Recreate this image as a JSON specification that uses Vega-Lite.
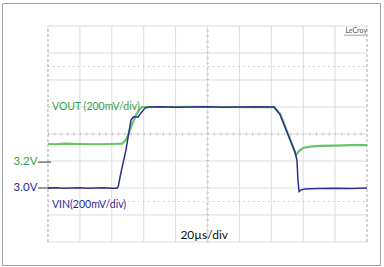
{
  "$schema": "https://vega.github.io/schema/vega-lite/v6.json",
  "width": 378,
  "height": 262,
  "padding": {"left": 2, "top": 3, "right": 4, "bottom": 2},
  "background": "white",
  "config": {"view": {"stroke": "#a0a0a0", "strokeWidth": 1}},
  "datasets": {
    "hgrid": [{"v": 0}, {"v": 1}, {"v": 2}, {"v": 3}, {"v": 4}, {"v": 5}, {"v": 6}, {"v": 7}, {"v": 8}],
    "vgrid": [{"t": 20}, {"t": 40}, {"t": 60}, {"t": 80}, {"t": 100}, {"t": 120}, {"t": 140}, {"t": 160}, {"t": 180}],
    "dotted": [{"v": 1.5}, {"v": 6.5}],
    "center": [{"t": 100, "v": 4}],
    "border": [{"t": 0}, {"t": 200}],
    "vout": [
      {"t": 0, "v": 3.63}, {"t": 5, "v": 3.62}, {"t": 10, "v": 3.64}, {"t": 20, "v": 3.63}, {"t": 30, "v": 3.62},
      {"t": 40, "v": 3.63}, {"t": 46.4, "v": 3.64}, {"t": 47.6, "v": 3.7}, {"t": 49.5, "v": 3.85}, {"t": 51.4, "v": 4.15},
      {"t": 53.3, "v": 4.44}, {"t": 55.2, "v": 4.7}, {"t": 57.1, "v": 4.89}, {"t": 58.9, "v": 5.0}, {"t": 70, "v": 5.0},
      {"t": 90, "v": 5.01}, {"t": 110, "v": 5.0}, {"t": 130, "v": 4.99}, {"t": 141.7, "v": 5.0}, {"t": 145.5, "v": 4.75},
      {"t": 150.5, "v": 4.0}, {"t": 154.3, "v": 3.4}, {"t": 155.5, "v": 3.22}, {"t": 157.4, "v": 3.37}, {"t": 159.9, "v": 3.48},
      {"t": 164.3, "v": 3.53}, {"t": 170.5, "v": 3.56}, {"t": 180, "v": 3.57}, {"t": 190, "v": 3.59}, {"t": 200, "v": 3.59}
    ],
    "vin": [
      {"t": 0, "v": 2.0}, {"t": 5, "v": 2.01}, {"t": 10, "v": 1.99}, {"t": 15, "v": 2.0}, {"t": 20, "v": 2.01},
      {"t": 25, "v": 1.99}, {"t": 30, "v": 2.0}, {"t": 35, "v": 2.01}, {"t": 40, "v": 1.99}, {"t": 43.3, "v": 1.99},
      {"t": 44.0, "v": 2.05}, {"t": 45.8, "v": 2.59}, {"t": 48.9, "v": 3.41}, {"t": 52.0, "v": 4.52}, {"t": 53.6, "v": 4.64},
      {"t": 56.4, "v": 4.62}, {"t": 58.3, "v": 4.78}, {"t": 60.8, "v": 4.96}, {"t": 63.3, "v": 5.0}, {"t": 70, "v": 5.01},
      {"t": 80, "v": 4.99}, {"t": 90, "v": 5.0}, {"t": 100, "v": 5.01}, {"t": 110, "v": 4.99}, {"t": 120, "v": 5.0},
      {"t": 130, "v": 5.01}, {"t": 141.7, "v": 5.0}, {"t": 145.5, "v": 4.72}, {"t": 150.5, "v": 3.97}, {"t": 154.9, "v": 3.33},
      {"t": 156.1, "v": 3.02}, {"t": 156.7, "v": 2.3}, {"t": 157.4, "v": 1.87}, {"t": 158.6, "v": 1.93}, {"t": 161.1, "v": 1.96},
      {"t": 165, "v": 1.97}, {"t": 170, "v": 1.98}, {"t": 180, "v": 1.99}, {"t": 190, "v": 1.98}, {"t": 200, "v": 2.0}
    ],
    "markers": [{"label": "3.2V", "v": 2.96, "ch": "VOUT"}, {"label": "3.0V", "v": 2.0, "ch": "VIN"}],
    "traceLabels": [{"label": "VOUT (200mV/div)", "t": 2.5, "v": 5.0, "ch": "VOUT"}, {"label": "VIN(200mV/div)", "t": 2.5, "v": 1.37, "ch": "VIN"}],
    "timebase": [{"label": "20µs/div", "t": 83, "v": 0.26}],
    "brand": [{"label": "LeCroy", "t": 200, "v": 7.81, "t0": 185.6, "vu": 7.66}]
  },
  "layer": [
    {
      "data": {"name": "hgrid"},
      "mark": {"type": "rule", "stroke": "#dcdcdc", "strokeWidth": 1},
      "encoding": {
        "y": {"field": "v", "type": "quantitative", "axis": null, "scale": {"domain": [-0.852, 8.852], "nice": false, "zero": false}},
        "x": {"datum": 0, "type": "quantitative", "axis": null, "scale": {"domain": [-28.84, 208.15], "nice": false, "zero": false}},
        "x2": {"datum": 200}
      }
    },
    {
      "data": {"name": "vgrid"},
      "mark": {"type": "rule", "stroke": "#dcdcdc", "strokeWidth": 1},
      "encoding": {
        "x": {"field": "t", "type": "quantitative", "axis": null},
        "y": {"datum": 0, "type": "quantitative", "axis": null},
        "y2": {"datum": 8}
      }
    },
    {
      "data": {"name": "dotted"},
      "mark": {"type": "rule", "stroke": "#c8c8c8", "strokeWidth": 1, "strokeDash": [1.5, 3.5]},
      "encoding": {
        "y": {"field": "v", "type": "quantitative", "axis": null},
        "x": {"datum": 0, "type": "quantitative", "axis": null},
        "x2": {"datum": 200}
      }
    },
    {
      "data": {"name": "center"},
      "mark": {"type": "rule", "stroke": "#c4c4c4", "strokeWidth": 3, "strokeDash": [1, 4.4]},
      "encoding": {
        "x": {"field": "t", "type": "quantitative", "axis": null},
        "y": {"datum": 0, "type": "quantitative", "axis": null},
        "y2": {"datum": 8}
      }
    },
    {
      "data": {"name": "center"},
      "mark": {"type": "rule", "stroke": "#c4c4c4", "strokeWidth": 3, "strokeDash": [1, 5.38]},
      "encoding": {
        "y": {"field": "v", "type": "quantitative", "axis": null},
        "x": {"datum": 0, "type": "quantitative", "axis": null},
        "x2": {"datum": 200}
      }
    },
    {
      "data": {"name": "border"},
      "mark": {"type": "rule", "stroke": "#a8a8a8", "strokeWidth": 1, "strokeDash": [3, 2]},
      "encoding": {
        "x": {"field": "t", "type": "quantitative", "axis": null},
        "y": {"datum": 0, "type": "quantitative", "axis": null},
        "y2": {"datum": 8}
      }
    },
    {
      "data": {"name": "vout"},
      "mark": {"type": "line", "stroke": "#66c56a", "strokeWidth": 2.2},
      "encoding": {
        "x": {"field": "t", "type": "quantitative", "axis": null},
        "y": {"field": "v", "type": "quantitative", "axis": null}
      }
    },
    {
      "data": {"name": "vin"},
      "mark": {"type": "line", "stroke": "#2e2e8e", "strokeWidth": 1.5},
      "encoding": {
        "x": {"field": "t", "type": "quantitative", "axis": null},
        "y": {"field": "v", "type": "quantitative", "axis": null}
      }
    },
    {
      "data": {"name": "markers"},
      "mark": {"type": "rule", "stroke": "#333333", "strokeWidth": 1},
      "encoding": {
        "y": {"field": "v", "type": "quantitative", "axis": null},
        "x": {"datum": -6.3, "type": "quantitative", "axis": null},
        "x2": {"datum": 1.9}
      }
    },
    {
      "data": {"name": "markers"},
      "mark": {"type": "text", "align": "right", "baseline": "middle", "font": "Lato", "fontSize": 11.5, "dx": -0.5},
      "encoding": {
        "y": {"field": "v", "type": "quantitative", "axis": null},
        "x": {"datum": -6.3, "type": "quantitative", "axis": null},
        "text": {"field": "label"},
        "color": {"field": "ch", "type": "nominal", "legend": null, "scale": {"domain": ["VOUT", "VIN"], "range": ["#3a9e45", "#2b2b96"]}}
      }
    },
    {
      "data": {"name": "traceLabels"},
      "mark": {"type": "text", "align": "left", "baseline": "middle", "font": "Lato", "fontSize": 10.5},
      "encoding": {
        "y": {"field": "v", "type": "quantitative", "axis": null},
        "x": {"field": "t", "type": "quantitative", "axis": null},
        "text": {"field": "label"},
        "color": {"field": "ch", "type": "nominal", "legend": null}
      }
    },
    {
      "data": {"name": "timebase"},
      "mark": {"type": "text", "align": "left", "baseline": "middle", "font": "Lato", "fontSize": 12, "color": "#111111"},
      "encoding": {
        "y": {"field": "v", "type": "quantitative", "axis": null},
        "x": {"field": "t", "type": "quantitative", "axis": null},
        "text": {"field": "label"}
      }
    },
    {
      "data": {"name": "brand"},
      "mark": {"type": "text", "align": "right", "baseline": "middle", "font": "Lato", "fontSize": 7, "color": "#555555"},
      "encoding": {
        "y": {"field": "v", "type": "quantitative", "axis": null},
        "x": {"field": "t", "type": "quantitative", "axis": null},
        "text": {"field": "label"}
      }
    },
    {
      "data": {"name": "brand"},
      "mark": {"type": "rule", "stroke": "#777777", "strokeWidth": 0.7},
      "encoding": {
        "y": {"field": "vu", "type": "quantitative", "axis": null},
        "x": {"field": "t0", "type": "quantitative", "axis": null},
        "x2": {"field": "t"}
      }
    }
  ]
}
